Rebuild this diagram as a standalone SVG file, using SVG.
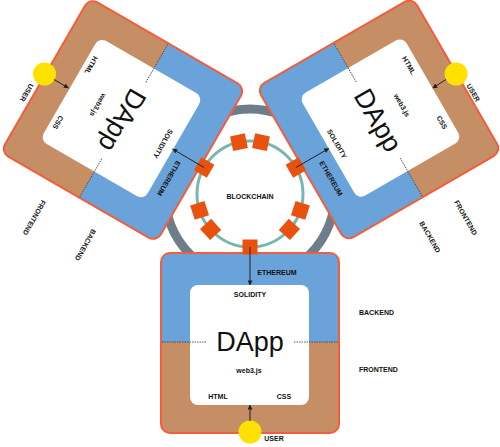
<svg xmlns="http://www.w3.org/2000/svg" xmlns:xlink="http://www.w3.org/1999/xlink" width="500" height="447" viewBox="0 0 500 447">
<style>
.t{font-family:"Liberation Sans",Arial,sans-serif;font-weight:bold;font-size:7px;text-anchor:middle;dominant-baseline:central;fill:#111}
.big{font-family:"Liberation Sans",Arial,sans-serif;font-size:27px;text-anchor:middle;dominant-baseline:central;fill:#111}
.user{fill:#ffe100}
.conn line{stroke:#222;stroke-width:1;marker-end:url(#ah)}
</style>
<defs>
<marker id="ah" viewBox="0 0 6 6" refX="5.5" refY="3" markerWidth="5" markerHeight="5" orient="auto" markerUnits="userSpaceOnUse"><path d="M0 0L6 3L0 6z" fill="#222"/></marker>
<clipPath id="clipB"><rect x="161" y="253" width="178" height="180" rx="9"/></clipPath>
<g id="blk">
<g clip-path="url(#clipB)">
<rect x="161" y="253" width="178" height="89" fill="#69a3da"/>
<rect x="161" y="342" width="178" height="91" fill="#c68e64"/>
</g>
<rect x="161" y="253" width="178" height="180" rx="9" fill="none" stroke="#f35d3b" stroke-width="2"/>
<rect x="190" y="285" width="119" height="120" rx="8" fill="#fff"/>
<path d="M162 342H206M294 342H338" stroke="#333" stroke-width="0.8" stroke-dasharray="1.5 1" fill="none"/>
</g>
<rect id="sq" x="295.5" y="186.5" width="15" height="15" fill="#e8520e"/>
</defs>

<g id="ring-back">
<circle cx="250" cy="194" r="85" fill="none" stroke="#6f7d8a" stroke-width="9"/>
</g>

<g id="dapp-bottom">
<use href="#blk"/>
<circle class="user" cx="250" cy="432" r="11.5"/>
<text class="t" x="277" y="272">ETHEREUM</text>
<text class="t" x="250" y="294.5">SOLIDITY</text>
<text class="big" x="250" y="341.6">DApp</text>
<text class="t" x="249" y="370">web3.js</text>
<text class="t" x="218" y="396">HTML</text>
<text class="t" x="284" y="396">CSS</text>
<text class="t" x="274" y="438">USER</text>
<text class="t" x="376.5" y="312">BACKEND</text>
<text class="t" x="378.4" y="369">FRONTEND</text>
</g>

<g id="dapp-left">
<use href="#blk" transform="translate(2 0.5) rotate(120 250 194)"/>
<circle class="user" cx="44.5" cy="74" r="11.5"/>
<text class="t" x="168.9" y="178.4" transform="rotate(120 168.9 178.4)">ETHEREUM</text>
<text class="t" x="163" y="143.8" transform="rotate(120 163 143.8)">SOLIDITY</text>
<text class="big" x="122.2" y="120.2" transform="rotate(120 122.2 120.2)">DApp</text>
<text class="t" x="98.1" y="105.1" transform="rotate(120 98.1 105.1)">web3.js</text>
<text class="t" x="91.1" y="65.3" transform="rotate(120 91.1 65.3)">HTML</text>
<text class="t" x="58.1" y="122.4" transform="rotate(120 58.1 122.4)">CSS</text>
<text class="t" x="26.7" y="92.8" transform="rotate(120 26.7 92.8)">USER</text>
<text class="t" x="85.5" y="245" transform="rotate(120 85.5 245)">BACKEND</text>
<text class="t" x="34.3" y="217.7" transform="rotate(120 34.3 217.7)">FRONTEND</text>
</g>

<g id="dapp-right">
<use href="#blk" transform="translate(500 0) scale(-1 1) rotate(120 250 194)"/>
<circle class="user" cx="456.1" cy="74" r="11.5"/>
<text class="t" x="331.1" y="178.4" transform="rotate(60 331.1 178.4)">ETHEREUM</text>
<text class="t" x="337" y="143.8" transform="rotate(60 337 143.8)">SOLIDITY</text>
<text class="big" x="377.8" y="120.2" transform="rotate(60 377.8 120.2)">DApp</text>
<text class="t" x="401.9" y="105.1" transform="rotate(60 401.9 105.1)">web3.js</text>
<text class="t" x="408.9" y="65.3" transform="rotate(60 408.9 65.3)">HTML</text>
<text class="t" x="441.9" y="122.4" transform="rotate(60 441.9 122.4)">CSS</text>
<text class="t" x="473.3" y="92.8" transform="rotate(60 473.3 92.8)">USER</text>
<text class="t" x="430" y="237" transform="rotate(60 430 237)">BACKEND</text>
<text class="t" x="465.8" y="217.7" transform="rotate(60 465.8 217.7)">FRONTEND</text>
</g>

<g id="blockchain">
<circle cx="250" cy="194" r="53" fill="#fff" stroke="#79b6ae" stroke-width="3"/>
<use href="#sq" transform="rotate(90 250 194)"/>
<use href="#sq" transform="rotate(210 250 194)"/>
<use href="#sq" transform="rotate(330 250 194)"/>
<use href="#sq" transform="rotate(258 250 194)"/>
<use href="#sq" transform="rotate(282 250 194)"/>
<use href="#sq" transform="rotate(18 250 194)"/>
<use href="#sq" transform="rotate(42 250 194)"/>
<use href="#sq" transform="rotate(138 250 194)"/>
<use href="#sq" transform="rotate(162 250 194)"/>
<text class="t" x="250" y="196">BLOCKCHAIN</text>
</g>

<g id="connectors" class="conn">
<line x1="250" y1="247" x2="250" y2="285"/>
<line x1="250" y1="421" x2="250" y2="405"/>
<line x1="204.1" y1="167.5" x2="172.5" y2="149"/>
<line x1="54" y1="79.5" x2="68.5" y2="88"/>
<line x1="295.9" y1="167.5" x2="328.8" y2="148.5"/>
<line x1="446" y1="79.5" x2="432.7" y2="88"/>
</g>
</svg>
